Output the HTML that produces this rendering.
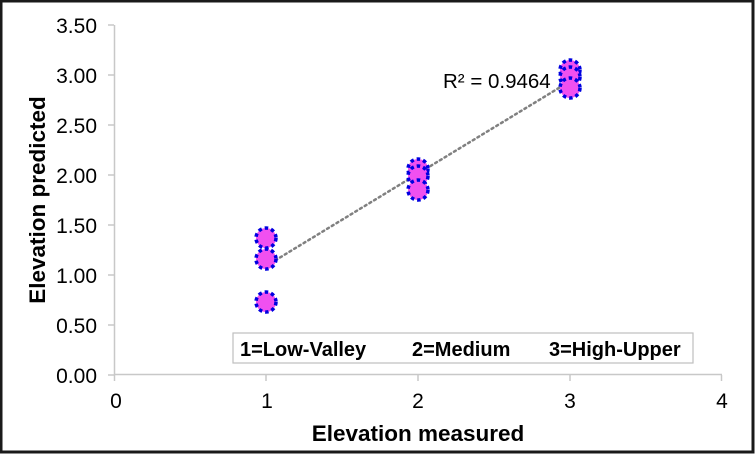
<!DOCTYPE html>
<html><head><style>
html,body{margin:0;padding:0;background:#fff;}
svg{display:block;font-family:"Liberation Sans",Arial,sans-serif;}
</style></head><body>
<svg width="755" height="454" viewBox="0 0 755 454" xmlns="http://www.w3.org/2000/svg">
<rect x="1" y="1" width="752" height="451" fill="#fff" stroke="#1a1a1a" stroke-width="3"/>
<g stroke="#c8c8c8" stroke-width="1.5" fill="none">
<line x1="114.5" y1="25" x2="114.5" y2="375"/>
<line x1="114" y1="374.5" x2="722" y2="374.5"/>
<line x1="108" y1="25" x2="114" y2="25"/>
<line x1="108" y1="75" x2="114" y2="75"/>
<line x1="108" y1="125" x2="114" y2="125"/>
<line x1="108" y1="175" x2="114" y2="175"/>
<line x1="108" y1="225" x2="114" y2="225"/>
<line x1="108" y1="275" x2="114" y2="275"/>
<line x1="108" y1="325" x2="114" y2="325"/>
<line x1="108" y1="375" x2="114" y2="375"/>
<line x1="114.5" y1="375" x2="114.5" y2="381"/>
<line x1="266" y1="375" x2="266" y2="381"/>
<line x1="418" y1="375" x2="418" y2="381"/>
<line x1="570" y1="375" x2="570" y2="381"/>
<line x1="721.5" y1="375" x2="721.5" y2="381"/>
</g>
<g font-size="21" fill="#000" text-anchor="end">
<text x="97" y="33">3.50</text>
<text x="97" y="83">3.00</text>
<text x="97" y="133">2.50</text>
<text x="97" y="183">2.00</text>
<text x="97" y="233">1.50</text>
<text x="97" y="283">1.00</text>
<text x="97" y="333">0.50</text>
<text x="97" y="383">0.00</text>
</g>
<g font-size="21" fill="#000" text-anchor="middle">
<text x="116" y="408">0</text>
<text x="267" y="408">1</text>
<text x="418" y="408">2</text>
<text x="570" y="408">3</text>
<text x="722" y="408">4</text>
</g>
<text x="418" y="441" font-size="22.5" font-weight="bold" text-anchor="middle">Elevation measured</text>
<text transform="translate(45,200) rotate(-90)" font-size="22.5" font-weight="bold" text-anchor="middle">Elevation predicted</text>
<line x1="266" y1="266" x2="572" y2="80" stroke="#808080" stroke-width="2.5" stroke-dasharray="2 3.5" stroke-linecap="round"/>
<g fill="#f050f0" stroke="#0000e0" stroke-width="3.5" stroke-dasharray="3.5 3">
<circle cx="266" cy="238" r="10"/>
<circle cx="266" cy="259" r="10"/>
<circle cx="266" cy="302" r="10"/>
<circle cx="418" cy="169" r="10"/>
<circle cx="418" cy="176" r="10"/>
<circle cx="418" cy="190" r="10"/>
<circle cx="570" cy="70" r="10"/>
<circle cx="570" cy="77" r="10"/>
<circle cx="570" cy="88" r="10"/>
</g>
<text x="443" y="88" font-size="20.5">R² = 0.9464</text>
<rect x="233" y="333" width="460" height="30" fill="#fff" stroke="#bfbfbf" stroke-width="1.2"/>
<g font-size="20" font-weight="bold">
<text x="240" y="356">1=Low-Valley</text>
<text x="412" y="356">2=Medium</text>
<text x="549" y="356">3=High-Upper</text>
</g>
</svg>
</body></html>
